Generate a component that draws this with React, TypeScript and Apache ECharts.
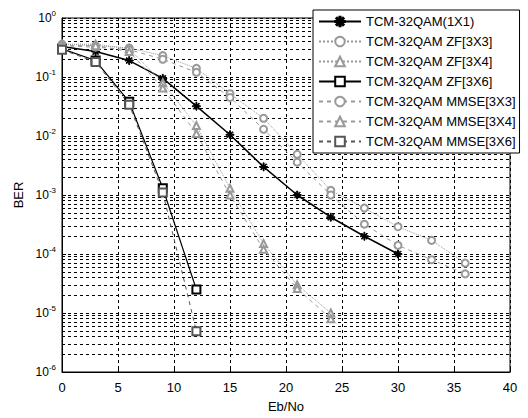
import React, { useEffect, useRef } from "react";
import * as echarts from "echarts";

const xTicks = [0, 5, 10, 15, 20, 25, 30, 35, 40];
const x11 = [0, 3, 6, 9, 12, 15, 18, 21, 24, 27, 30];
const ber11 = [0.33, 0.27, 0.19, 0.095, 0.032, 0.0105, 0.003, 0.001, 4.2e-4, 2e-4, 1e-4];
const x33 = [0, 3, 6, 9, 12, 15, 18, 21, 24, 27, 30, 33, 36];
const berZF33 = [0.36, 0.34, 0.31, 0.23, 0.14, 0.052, 0.02, 0.0049, 0.0012, 6e-4, 2.9e-4, 1.7e-4, 7e-5];
const berMMSE33 = [0.34, 0.32, 0.29, 0.2, 0.12, 0.045, 0.013, 0.0036, 0.001, 3.2e-4, 1.4e-4, 8e-5, 4.6e-5];
const x34 = [0, 3, 6, 9, 12, 15, 18, 21, 24];
const berZF34 = [0.36, 0.36, 0.3, 0.08, 0.015, 1.3e-3, 1.5e-4, 3e-5, 1e-5];
const berMMSE34 = [0.34, 0.34, 0.27, 0.065, 0.011, 1e-3, 1.2e-4, 2.6e-5, 8e-6];
const x36 = [0, 3, 6, 9, 12];
const berZF36 = [0.3, 0.19, 0.038, 1.3e-3, 2.5e-5];
const berMMSE36 = [0.29, 0.18, 0.034, 1.1e-3, 4.9e-6];
const decades = [1e-6, 1e-5, 1e-4, 1e-3, 1e-2, 1e-1];
const mantissas = [2, 3, 4, 5, 6, 7, 8, 9];

const names = [
  "TCM-32QAM(1X1)",
  "TCM-32QAM ZF[3X3]",
  "TCM-32QAM ZF[3X4]",
  "TCM-32QAM ZF[3X6]",
  "TCM-32QAM MMSE[3X3]",
  "TCM-32QAM MMSE[3X4]",
  "TCM-32QAM MMSE[3X6]",
];

const starPath =
  "path://M-0.6,-5L0.6,-5L0.6,5L-0.6,5Z M-5,-0.6L5,-0.6L5,0.6L-5,0.6Z M-3.9,-3.1L-3.1,-3.9L3.9,3.1L3.1,3.9Z M3.1,-3.9L3.9,-3.1L-3.1,3.9L-3.9,3.1Z";

const zip = (xs: number[], ys: number[]) => xs.map((x, i) => [x, ys[i]]);

export default function App() {
  const ref = useRef<HTMLDivElement>(null);
  useEffect(() => {
    if (!ref.current) return;
    const chart = echarts.init(ref.current, null, { renderer: "svg" });
    const font = "Liberation Sans";
    const gray = "#999999";
    const minor: number[] = [];
    decades.forEach((d) => mantissas.forEach((m) => minor.push(m * d)));
    const xMin = xTicks[0];
    const xMax = xTicks[xTicks.length - 1];
    const mk = (
      name: string,
      xs: number[],
      ys: number[],
      color: string,
      type: any,
      symbol: string,
      size: number,
      width: number
    ) => ({
      name,
      type: "line",
      data: zip(xs, ys),
      symbol,
      symbolSize: size,
      showSymbol: true,
      z: 5,
      lineStyle: { color, type, width },
      itemStyle: { color, borderColor: color, borderWidth: 1 },
    });
    chart.setOption({
      animation: false,
      backgroundColor: "#fff",
      textStyle: { fontFamily: font },
      grid: {
        left: 62,
        right: 18,
        top: 18,
        bottom: 40,
        show: true,
        borderColor: "#000",
        borderWidth: 1,
        containLabel: false,
      },
      legend: {
        data: names,
        orient: "vertical",
        left: 313,
        top: 10,
        width: 207,
        padding: [5, 4, 5, 5],
        itemWidth: 42,
        itemHeight: 12,
        itemGap: 7,
        backgroundColor: "#fff",
        borderColor: "#000",
        borderWidth: 1,
        textStyle: { fontSize: 13, lineHeight: 12, color: "#000", fontFamily: font },
        z: 20,
      },
      xAxis: {
        type: "value",
        min: xMin,
        max: xMax,
        interval: 5,
        name: "Eb/No",
        nameLocation: "middle",
        nameGap: 28,
        nameTextStyle: { fontSize: 13, color: "#000", fontFamily: font },
        axisLine: { lineStyle: { color: "#000", width: 1 } },
        axisTick: { inside: true, length: 4, lineStyle: { color: "#000" } },
        axisLabel: { fontSize: 13, color: "#000", margin: 9, fontFamily: font },
        splitLine: { show: true, lineStyle: { color: "#000", type: [3, 3], width: 1 } },
      },
      yAxis: {
        type: "log",
        logBase: 10,
        min: 1e-6,
        max: 1,
        name: "BER",
        nameLocation: "middle",
        nameRotate: 90,
        nameGap: 36,
        nameTextStyle: { fontSize: 13, color: "#000", fontFamily: font },
        axisLine: { lineStyle: { color: "#000", width: 1 } },
        axisTick: { inside: true, length: 4, lineStyle: { color: "#000" } },
        axisLabel: {
          margin: 6,
          color: "#000",
          formatter: (v: number) => `{b|10}{s|${Math.round(Math.log10(v))}}`,
          rich: {
            b: { fontSize: 12, fontFamily: font, color: "#000" },
            s: { fontSize: 8, fontFamily: font, color: "#000", verticalAlign: "top", padding: [0, 0, 9, 0] },
          },
        },
        splitLine: { show: true, lineStyle: { color: "#000", type: [3, 3], width: 1 } },
      },
      series: [
        {
          name: "__grid",
          type: "lines",
          coordinateSystem: "cartesian2d",
          z: 1,
          silent: true,
          polyline: false,
          lineStyle: { color: "#000", type: [3, 3], width: 1, opacity: 1 },
          data: minor.map((v) => ({ coords: [[xMin, v], [xMax, v]] })),
        },
        mk(names[0], x11, ber11, "#000", "solid", starPath, 8, 1.5),
        mk(names[1], x33, berZF33, gray, "dotted", "emptyCircle", 7, 1),
        mk(names[2], x34, berZF34, gray, "dotted", "emptyTriangle", 7, 1),
        mk(names[3], x36, berZF36, "#000", "solid", "emptyRect", 8, 1.2),
        mk(names[4], x33, berMMSE33, gray, [4, 4], "emptyCircle", 7, 1),
        mk(names[5], x34, berMMSE34, gray, [4, 4], "emptyTriangle", 7, 1),
        mk(names[6], x36, berMMSE36, "#555", [4, 4], "emptyRect", 8, 1),
      ],
    });
    return () => chart.dispose();
  }, []);
  return (
    <div
      ref={ref}
      style={{ position: "absolute", left: 0, top: 0, width: 528, height: 418 }}
    />
  );
}
